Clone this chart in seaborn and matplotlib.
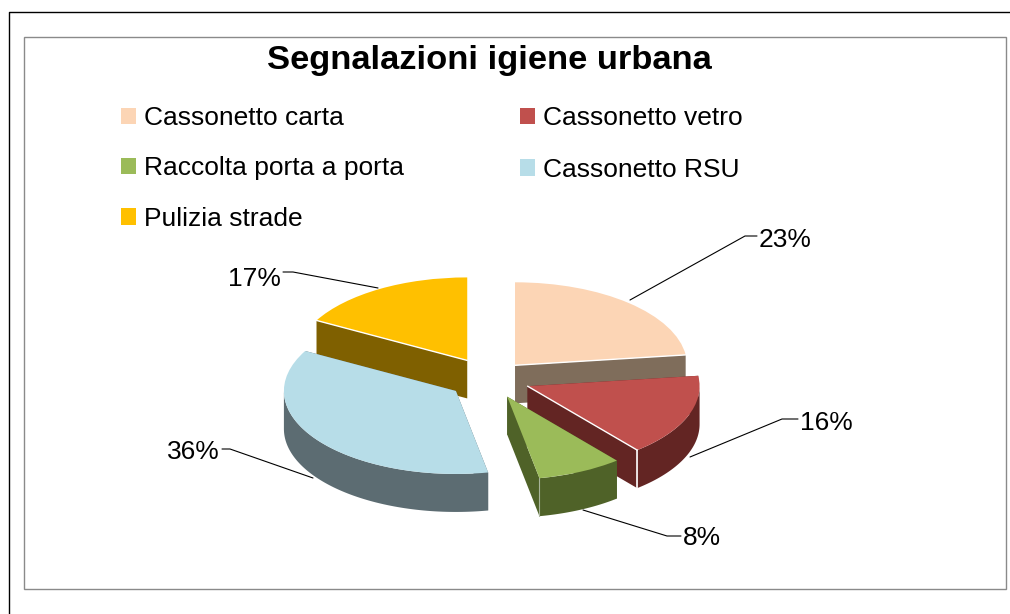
import numpy as np
import matplotlib
matplotlib.use('Agg')
import matplotlib.pyplot as plt
from matplotlib.patches import Patch, Rectangle
from matplotlib.lines import Line2D
import seaborn as sns

# Data
categories = ['Cassonetto carta', 'Cassonetto vetro', 'Raccolta porta a porta', 'Cassonetto RSU', 'Pulizia strade']
values = [23, 16, 8, 36, 17]
top_colors = ['#FCD5B5', '#C0504D', '#9BBB59', '#B7DDE8', '#FFC000']
side_colors = ['#7F6D5B', '#632523', '#4F6228', '#5C6C72', '#7F6000']
title = 'Segnalazioni igiene urbana'

sns.set_theme(style='white')
plt.rcParams['font.family'] = ['Liberation Sans', 'DejaVu Sans']

W, H = 1010, 614
CX, CY = 490, 379    # pie centre, pixels
RX, RY = 172, 83     # squashed radius, pixels
EXPLODE = [0.22, 0.235, 0.235, 0.245, 0.26]
DEPTH = 38 / RY      # extrusion in y units


def px(x, y):
    return (x - CX) / RX, (CY - y) / RY


fig = plt.figure(figsize=(W / 100, H / 100), dpi=100)
ax = fig.add_axes([0, 0, 1, 1])

palette = sns.color_palette(top_colors)
wedges, _ = ax.pie(values, colors=palette, explode=EXPLODE, startangle=90,
                   counterclock=False, radius=1, wedgeprops={'linewidth': 0})
ax.set_aspect('auto')
ax.set_xlim(px(0, 0)[0], px(W, 0)[0])
ax.set_ylim(px(0, H)[1], px(0, 0)[1])
ax.axis('off')

# slice stacking, back to front
order = {0: 2, 4: 3, 3: 4, 1: 5, 2: 6}
edges = np.cumsum([0] + values) / sum(values) * 2 * np.pi

for i, w in enumerate(wedges):
    a0, a1 = edges[i], edges[i + 1]
    mid = (a0 + a1) / 2
    ox, oy = EXPLODE[i] * np.sin(mid), EXPLODE[i] * np.cos(mid)
    # outer rim pushed down, only the part that faces the viewer
    r0, r1 = max(a0, np.pi / 2), min(a1, 3 * np.pi / 2)
    if r1 > r0:
        t = np.linspace(r0, r1, 80)
        rim_x, rim_y = ox + np.sin(t), oy + np.cos(t)
        ax.fill(np.r_[rim_x, rim_x[::-1]], np.r_[rim_y, rim_y[::-1] - DEPTH],
                color=side_colors[i], lw=0, zorder=order[i])
    # the two cut faces pushed down
    for a in (a0, a1):
        ex, ey = ox + np.sin(a), oy + np.cos(a)
        ax.fill([ox, ex, ex, ox], [oy, ey, ey - DEPTH, oy - DEPTH],
                color=side_colors[i], lw=0, zorder=order[i])
    w.set_zorder(order[i] + 0.5)
    # light edges of the bevel
    if i in (0, 1):
        ax.plot([ox, ox + np.sin(a1)], [oy, oy + np.cos(a1)], color='white', lw=1, zorder=order[i] + 0.6)
    if i == 4:
        ax.plot([ox, ox + np.sin(a0)], [oy, oy + np.cos(a0)], color='white', lw=1, zorder=order[i] + 0.6)
    if i == 1:
        ax.plot([ox + np.sin(a1)] * 2, [oy + np.cos(a1), oy + np.cos(a1) - DEPTH], color='white', lw=1.2, zorder=order[i] + 0.6)
    if i == 2:
        ax.plot([ox + np.sin(a1)] * 2, [oy + np.cos(a1), oy + np.cos(a1) - DEPTH], color='#A9B59A', lw=0.8, zorder=order[i] + 0.6)

# Percent labels with leader lines
leaders = [
    [(630, 300), (745, 236), (757, 236)],
    [(690, 457), (782, 419), (798, 419)],
    [(583, 510), (667, 536), (681, 536)],
    [(313, 478), (230, 449), (222, 449)],
    [(378, 288), (293, 272), (283, 272)],
]
label_pos = [(759, 240, 'left'), (800, 423, 'left'), (683, 538, 'left'), (220, 452, 'right'), (281, 279, 'right')]
for v, line, (lx, ly, ha) in zip(values, leaders, label_pos):
    pts = np.array([px(*p) for p in line])
    ax.plot(pts[:, 0], pts[:, 1], color='black', lw=0.8, zorder=10)
    ax.text(*px(lx, ly), f'{v}%', ha=ha, va='center', fontsize=19, color='black', zorder=11)

ax.text(*px(489, 60), title, ha='center', va='center', fontsize=24.8, fontweight='bold', color='black')

# Legend, two separate columns as in the original
handles = [Patch(facecolor=c, edgecolor='none') for c in palette]
common = dict(frameon=False, fontsize=19, handlelength=0.57, handleheight=0.57, handletextpad=0.30,
              borderpad=0, borderaxespad=0, loc='upper left', bbox_transform=fig.transFigure, labelcolor='black')
col1 = [0, 2, 4]
leg1 = fig.legend([handles[i] for i in col1], [categories[i] for i in col1],
                  bbox_to_anchor=(121 / W, 1 - 106 / H), labelspacing=1.0, **common)
col2 = [1, 3]
leg2 = fig.legend([handles[i] for i in col2], [categories[i] for i in col2],
                  bbox_to_anchor=(520 / W, 1 - 106 / H), labelspacing=1.05, **common)

# Frames
fig.add_artist(Rectangle((24 / W, 1 - 589 / H), (1006 - 24) / W, (589 - 37) / H, transform=fig.transFigure,
                         facecolor='none', edgecolor='#8A8A8A', lw=1.0))
fig.add_artist(Line2D([9 / W, 9 / W, 1], [0, 1 - 12 / H, 1 - 12 / H], transform=fig.transFigure, color='black', lw=1.0))

plt.savefig('out.png', dpi=100)
